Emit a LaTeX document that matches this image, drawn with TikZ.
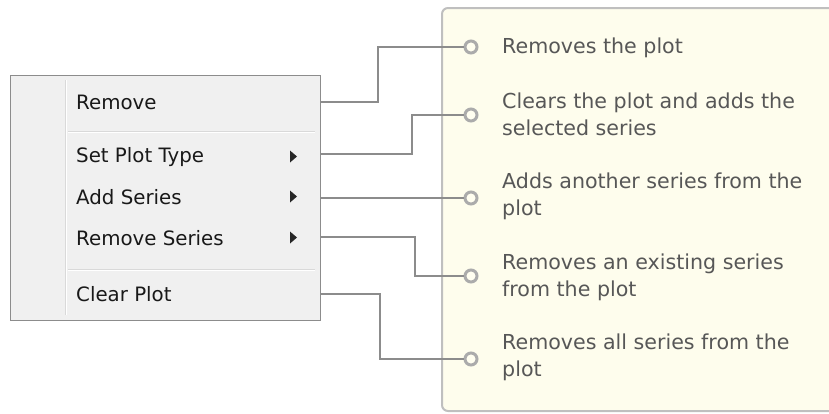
\documentclass[tikz,border=0pt]{standalone}
\usepackage{fontspec}
\setmainfont{DejaVu Sans}
\begin{document}
\begin{tikzpicture}[x=1pt,y=-1pt,
  menutext/.style={anchor=west,inner sep=0pt,text=black!90,font=\fontsize{19.8}{22}\selectfont},
  desctext/.style={anchor=west,inner sep=0pt,text=black!66,font=\fontsize{20.6}{27}\selectfont,align=left},
  conn/.style={draw=black!45,line width=2.5pt},
  knob/.style={circle,draw=black!33,fill=yellow!6,line width=3pt,minimum size=12pt,inner sep=0pt},
  subarrow/.style={fill=black!85,draw=none}]
\useasboundingbox (0,0) rectangle (829,413);
\clip (0,0) rectangle (829,413);
% yellow panel
\draw[draw=black!25,line width=2pt,fill={rgb,255:red,254;green,253;blue,237},rounded corners=6pt] (442,8) rectangle (850,411);
% menu
\draw[draw=black!45,line width=1pt,fill={rgb,255:red,240;green,240;blue,240}] (10,75) rectangle (320,320);
\draw[draw=black!15,line width=1pt] (65,80) -- (65,315);
\draw[draw=white,line width=1pt] (66,80) -- (66,315);
\draw[draw=black!15,line width=1pt] (68,131) -- (315,131);
\draw[draw=white,line width=1pt] (68,132) -- (315,132);
\draw[draw=black!15,line width=1pt] (68,269) -- (315,269);
\draw[draw=white,line width=1pt] (68,270) -- (315,270);
\node[menutext] (i1) at (76,102) {Remove};
\node[menutext] (i2) at (76,157) {Set Plot Type};
\node[menutext] (i3) at (76,197) {Add Series};
\node[menutext] (i4) at (76,238) {Remove Series};
\node[menutext] (i5) at (76,294) {Clear Plot};
\fill[subarrow] (290,150.5) -- (297,156.5) -- (290,162.5) -- cycle;
\fill[subarrow] (290,190.5) -- (297,196.5) -- (290,202.5) -- cycle;
\fill[subarrow] (290,231.5) -- (297,237.5) -- (290,243.5) -- cycle;
% anchor points on menu edge
\coordinate (m1) at (320,102);
\coordinate (m2) at (320,154);
\coordinate (m3) at (320,198);
\coordinate (m4) at (320,237);
\coordinate (m5) at (320,294);
% knobs
\node[knob] (k1) at (471,47) {};
\node[knob] (k2) at (471,115) {};
\node[knob] (k3) at (471,198) {};
\node[knob] (k4) at (471,276) {};
\node[knob] (k5) at (471,359) {};
% connectors
\draw[conn] (m1) -- (378,102) |- (k1.west);
\draw[conn] (m2) -- (412,154) |- (k2.west);
\draw[conn] (m3) -- (k3.west);
\draw[conn] (m4) -- (415,237) |- (k4.west);
\draw[conn] (m5) -- (380,294) |- (k5.west);
% descriptions
\node[desctext] (d1) at (502,48) {Removes the plot};
\node[desctext] (d2) at (502,114) {Clears the plot and adds the\\selected series};
\node[desctext] (d3) at (502,196) {Adds another series from the\\plot};
\node[desctext] (d4) at (502,277) {Removes an existing series\\from the plot};
\node[desctext] (d5) at (502,357) {Removes all series from the\\plot};
\end{tikzpicture}
\end{document}
